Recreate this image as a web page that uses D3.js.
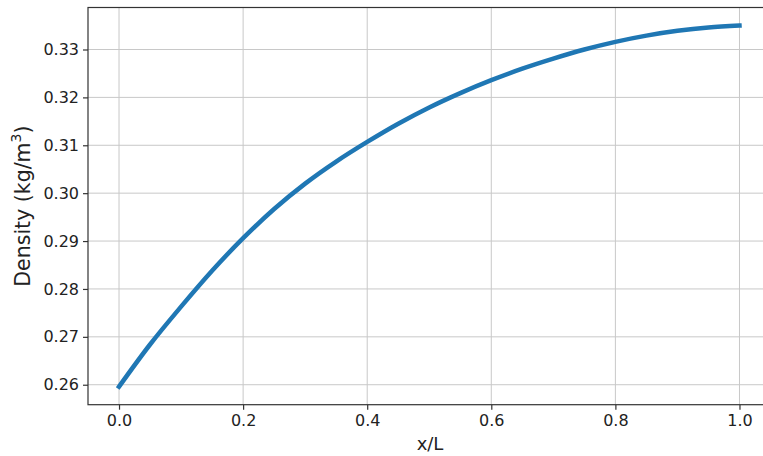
<!DOCTYPE html>
<html>
<head>
<meta charset="utf-8">
<script src="https://cdn.jsdelivr.net/npm/d3@7"></script>
<style>
  body { margin: 0; background: #fff; }
  svg { display: block; font-family: "DejaVu Sans", sans-serif; }
  .grid line { stroke: #c8c8c8; stroke-width: 1; }
</style>
</head>
<body>
<svg id="chart"></svg>
<script>
// position along the duct (x/L) and density
const xPos = [0, 0.05, 0.1, 0.15, 0.2, 0.25, 0.3, 0.35, 0.4, 0.45, 0.5,
  0.55, 0.6, 0.65, 0.7, 0.75, 0.8, 0.85, 0.9, 0.95, 1.0]
const density = [0.2596, 0.2684, 0.2763, 0.2838, 0.2906, 0.2967, 0.3020, 0.3066, 0.3107, 0.3145, 0.3179,
  0.3209, 0.3236, 0.3260, 0.3281, 0.3300, 0.3316, 0.3329, 0.3339, 0.3346, 0.3350]
const xTicks = [0, 0.2, 0.4, 0.6, 0.8, 1.0]
const yTicks = [0.26, 0.27, 0.28, 0.29, 0.30, 0.31, 0.32, 0.33]

const width = 763
const height = 456
const margin = {top: 7.5, right: -7.5, bottom: 51.3, left: 88}
const plotWidth = width - margin.left - margin.right
const plotHeight = height - margin.top - margin.bottom

const svg = d3.select("#chart").attr("width", width).attr("height", height)
const plot = svg.append("g")
  .attr("transform", "translate(" + margin.left + "," + margin.top + ")")

// matplotlib style 5% margins around the data
const xPad = 0.05 * (d3.max(xPos) - d3.min(xPos))
const yPad = 0.05 * (d3.max(density) - d3.min(density))
const x = d3.scaleLinear()
  .domain([d3.min(xPos) - xPad, d3.max(xPos) + xPad])
  .range([0, plotWidth])
const y = d3.scaleLinear()
  .domain([d3.min(density) - yPad, d3.max(density) + yPad])
  .range([plotHeight, 0])

// grid
plot.append("g").attr("class", "grid")
  .selectAll("line.v").data(xTicks).join("line")
  .attr("x1", d => x(d)).attr("x2", d => x(d))
  .attr("y1", 0).attr("y2", plotHeight)
plot.append("g").attr("class", "grid")
  .selectAll("line.h").data(yTicks).join("line")
  .attr("x1", 0).attr("x2", plotWidth)
  .attr("y1", d => y(d)).attr("y2", d => y(d))

// the curve
const line = d3.line()
  .x((d, i) => x(xPos[i]))
  .y(d => y(d))
  .curve(d3.curveMonotoneX)
plot.append("path")
  .datum(density)
  .attr("fill", "none")
  .attr("stroke", "#1f77b4")
  .attr("stroke-width", 4.5)
  .attr("stroke-linecap", "square")
  .attr("d", line)

// axes
const xAxis = plot.append("g")
  .attr("transform", "translate(0," + plotHeight + ")")
  .call(d3.axisBottom(x).tickValues(xTicks).tickFormat(d3.format(".1f")).tickSize(5).tickPadding(5))
const yAxis = plot.append("g")
  .call(d3.axisLeft(y).tickValues(yTicks).tickFormat(d3.format(".2f")).tickSize(5).tickPadding(4))
for (const a of [xAxis, yAxis]) {
  a.selectAll(".domain").remove()
  a.selectAll(".tick line").attr("stroke", "#333").attr("stroke-width", 1.2)
  a.selectAll(".tick text").attr("fill", "#222").style("font-size", "16px").style("font-family", "DejaVu Sans")
}

// spines (right one falls outside the window)
plot.append("rect")
  .attr("width", plotWidth).attr("height", plotHeight)
  .attr("fill", "none").attr("stroke", "#333").attr("stroke-width", 1.2)

// axis labels
svg.append("text")
  .attr("x", 430)
  .attr("y", 450)
  .attr("text-anchor", "middle")
  .attr("fill", "#222")
  .style("font-size", "18px")
  .text("x/L")

const yl = svg.append("text")
  .attr("transform", "translate(" + 30 + "," + (margin.top + plotHeight / 2) + ") rotate(-90)")
  .attr("text-anchor", "middle")
  .attr("fill", "#222")
  .style("font-size", "20.5px")
yl.append("tspan").text("Density (kg/m")
yl.append("tspan").attr("dy", -9).style("font-size", "14px").text("3")
yl.append("tspan").attr("dy", 9).text(")")
</script>
</body>
</html>
